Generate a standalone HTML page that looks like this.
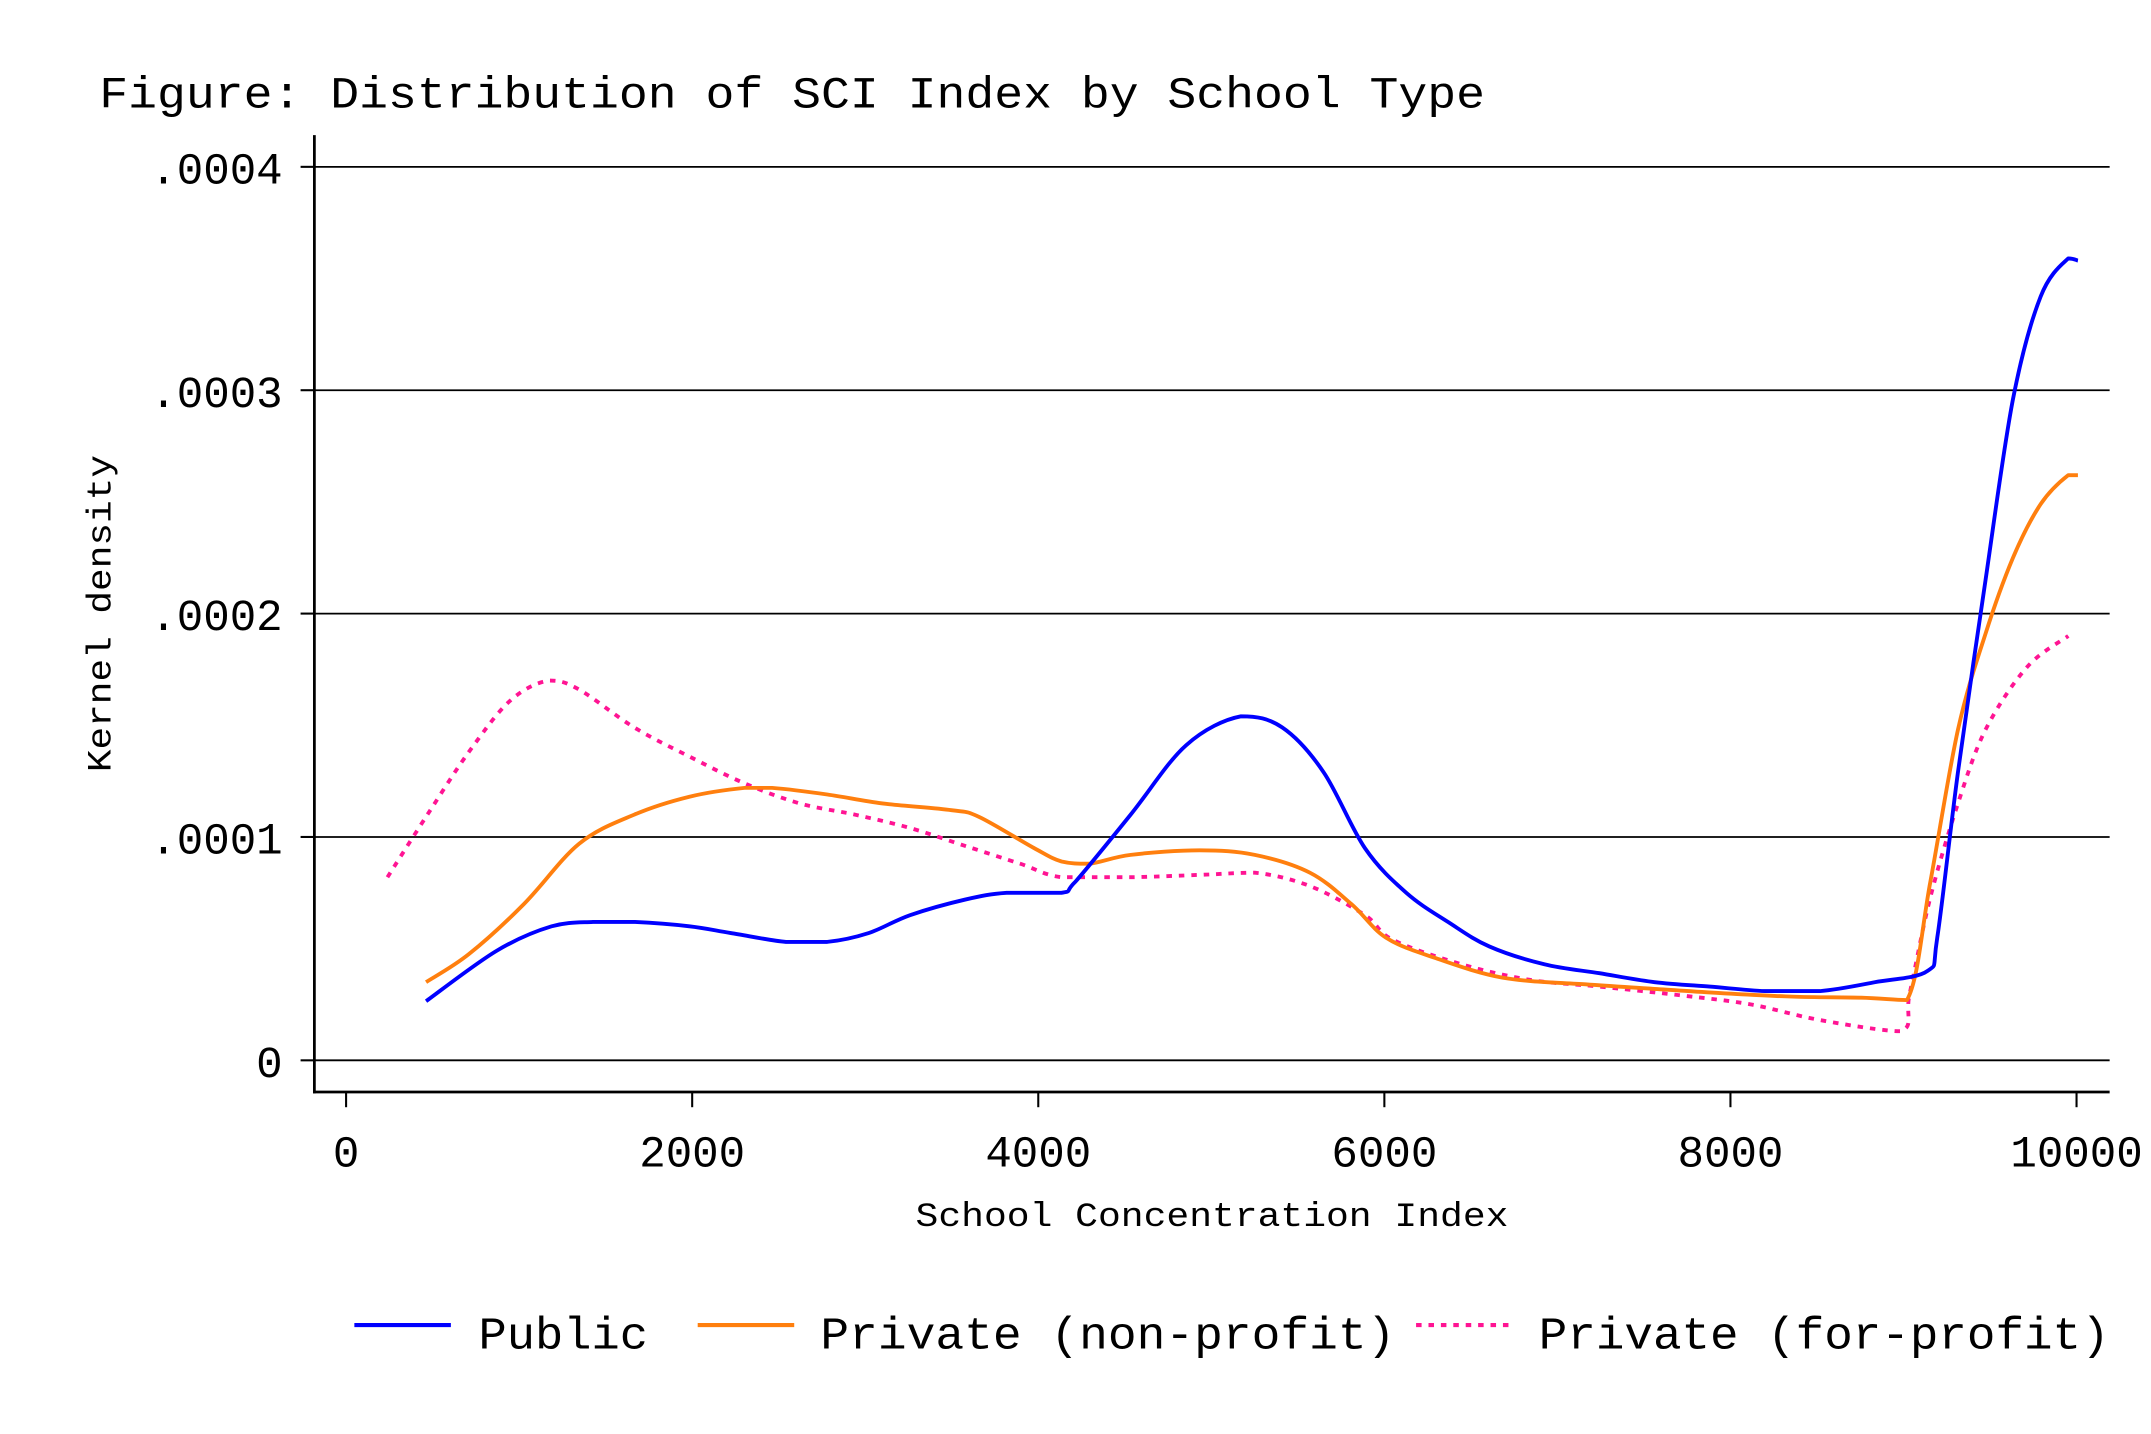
<!DOCTYPE html>
<html><head><meta charset="utf-8"><style>
html,body{margin:0;padding:0;background:#fff;}
svg{display:block;}
text{font-family:"Liberation Mono","DejaVu Sans Mono",monospace;fill:#000;}
</style></head><body>
<svg id="chart" width="2151" height="1434" viewBox="0 0 1560 1040" xmlns="http://www.w3.org/2000/svg">
<rect width="1560" height="1040" fill="#fff"/>
<text x="72" y="78" font-size="32" textLength="1005" lengthAdjust="spacingAndGlyphs">Figure: Distribution of SCI Index by School Type</text>
<g id="grid"></g>
<g id="axes"></g>
<g id="series"></g>
<text x="664" y="889" font-size="25" textLength="430" lengthAdjust="spacingAndGlyphs">School Concentration Index</text>
<text transform="translate(80,560) rotate(-90)" x="0" y="0" font-size="25" textLength="230" lengthAdjust="spacingAndGlyphs">Kernel density</text>
<g>
<line x1="257" y1="961" x2="327" y2="961" stroke="#0000ff" stroke-width="3"/>
<text x="347" y="978" font-size="33" textLength="123" lengthAdjust="spacingAndGlyphs">Public</text>
<line x1="506" y1="961" x2="576" y2="961" stroke="#ff7f0e" stroke-width="3"/>
<text x="595" y="978" font-size="33" textLength="417" lengthAdjust="spacingAndGlyphs">Private (non-profit)</text>
<line x1="1027" y1="961" x2="1097" y2="961" stroke="#ff1493" stroke-width="3" stroke-dasharray="4,5"/>
<text x="1116" y="978" font-size="33" textLength="414" lengthAdjust="spacingAndGlyphs">Private (for-profit)</text>
</g>
</svg>
<script>
const xTicks=[0,2000,4000,6000,8000,10000];
const yTicks=[0,0.0001,0.0002,0.0003,0.0004];
const yTickLabels=["0",".0001",".0002",".0003",".0004"];
const publicX=[462,869,1187,1426,1665,1984,2223,2542,2781,3020,3259,3578,3817,4135,4215,4534,4853,5171,5410,5649,5888,6127,6367,6606,6924,7243,7562,7880,8199,8518,8837,9139,9195,9315,9474,9633,9793,9952,10008];
const publicY=[2.65,4.9,6.0,6.2,6.2,6.0,5.7,5.3,5.3,5.7,6.5,7.2,7.5,7.5,8.0,11.0,14.1,15.4,14.9,12.9,9.5,7.5,6.2,5.1,4.3,3.9,3.5,3.3,3.1,3.1,3.5,4.0,5.5,12.9,21.5,29.6,34.2,35.9,35.8];
const nonprofitX=[462,709,1028,1347,1665,1984,2303,2462,2781,3100,3498,3657,3976,4135,4295,4534,4932,5251,5570,5809,6008,6287,6685,7163,7562,7960,8359,8757,9020,9155,9315,9474,9633,9793,9952,10008];
const nonprofitY=[3.5,4.75,7.0,9.7,11.0,11.8,12.2,12.2,11.9,11.5,11.2,10.9,9.5,8.9,8.8,9.2,9.4,9.2,8.4,7.0,5.5,4.6,3.7,3.4,3.2,3.0,2.85,2.8,2.7,8.0,14.8,19.1,22.5,24.9,26.2,26.2];
const forprofitX=[239,470,709,948,1171,1347,1665,1984,2303,2622,2940,3259,3578,3896,4135,4534,4932,5251,5570,5888,6048,6446,6845,7243,7721,8120,8518,8980,9036,9155,9315,9474,9713,9952];
const forprofitY=[8.2,11.0,13.8,16.1,17.0,16.6,14.9,13.6,12.4,11.5,11.0,10.4,9.6,8.8,8.2,8.2,8.3,8.4,7.8,6.5,5.4,4.3,3.6,3.3,2.9,2.5,1.8,1.3,3.0,7.3,11.5,14.8,17.6,19.0];
const NS='http://www.w3.org/2000/svg';
const sx=v=>251+v*(1506-251)/10000;
const sy=v=>769-v*(769-121)/0.0004;
function mk(tag,attrs,parent){const e=document.createElementNS(NS,tag);for(const k in attrs)e.setAttribute(k,attrs[k]);parent.appendChild(e);return e;}
const grid=document.getElementById('grid'),axes=document.getElementById('axes'),series=document.getElementById('series');
yTicks.forEach((t,i)=>{
  const g=mk('line',{x1:228,x2:1530,y1:sy(t),y2:sy(t),stroke:'#000','stroke-width':1.3},grid);
  
  
  const tk=mk('line',{x1:218,x2:228,y1:sy(t),y2:sy(t),stroke:'#000','stroke-width':1.5},axes);
  
  
  const lb=mk('text',{x:205,y:sy(t)+12,'font-size':32,'text-anchor':'end'},axes);
  lb.textContent=yTickLabels[i];
  
  
});
const ya=mk('line',{x1:228,x2:228,y1:98,y2:793,stroke:'#000','stroke-width':2},axes);


const xa=mk('line',{x1:227,x2:1530,y1:792,y2:792,stroke:'#000','stroke-width':2},axes);


xTicks.forEach(t=>{
  const tk=mk('line',{x1:sx(t),x2:sx(t),y1:792,y2:803,stroke:'#000','stroke-width':1.5},axes);
  
  
  const lb=mk('text',{x:sx(t),y:846,'font-size':32,'text-anchor':'middle'},axes);
  lb.textContent=String(t);
  
  
});
const clamp=(v,a,b)=>Math.max(Math.min(a,b),Math.min(Math.max(a,b),v));
function smooth(p){
  let d='M'+p[0][0].toFixed(1)+','+p[0][1].toFixed(1);
  for(let i=0;i<p.length-1;i++){
    const p0=p[i-1]||p[i],p1=p[i],p2=p[i+1],p3=p[i+2]||p2;
    const c1x=p1[0]+(p2[0]-p0[0])/6,c1y=clamp(p1[1]+(p2[1]-p0[1])/6,p1[1],p2[1]);
    const c2x=p2[0]-(p3[0]-p1[0])/6,c2y=clamp(p2[1]-(p3[1]-p1[1])/6,p1[1],p2[1]);
    d+=' C'+c1x.toFixed(1)+','+c1y.toFixed(1)+' '+c2x.toFixed(1)+','+c2y.toFixed(1)+' '+p2[0].toFixed(1)+','+p2[1].toFixed(1);
  }
  return d;
}
function draw(xs,ys,color,dash,name){
  const pts=xs.map((x,i)=>[sx(x),sy(ys[i]*1e-5)]);
  const attrs={d:smooth(pts),fill:'none',stroke:color,'stroke-width':2.8,'stroke-linejoin':'round'};
  if(dash)attrs['stroke-dasharray']=dash;
  const p=mk('path',attrs,series);
  
  
}
draw(forprofitX,forprofitY,'#ff1493','4,5','series-private-for-profit');
draw(nonprofitX,nonprofitY,'#ff7f0e',null,'series-private-non-profit');
draw(publicX,publicY,'#0000ff',null,'series-public');
</script>
</body></html>
